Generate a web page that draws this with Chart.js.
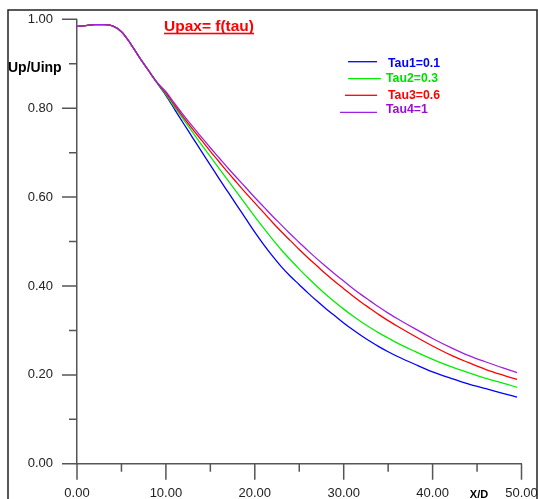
<!DOCTYPE html>
<html lang="en">
<head>
    <meta charset="UTF-8">
    <title>Upax = f(tau)</title>
    <script src="https://cdn.jsdelivr.net/npm/chart.js"></script>
    <style>
        body { margin: 0; background: #fff; }
        canvas { display: block; }
    </style>
</head>
<body>
    <canvas id="myChart" width="538" height="499"></canvas>

    <script>
        // x/D positions where the curves were read
        const xd = [0, 1, 2, 3, 4, 5, 6, 7, 8, 9, 10, 11, 12, 13, 14, 15, 16, 17, 18, 19, 20,
            21, 22, 23, 24, 25, 26, 27, 28, 29, 30, 31, 32, 33, 34, 35, 36, 38, 40, 42, 44, 46, 48, 49.5];

        // Up/Uinp for each tau
        const tau1 = [0.984, 0.986, 0.988, 0.988, 0.985, 0.972, 0.946, 0.915, 0.886, 0.857,
            0.829, 0.797, 0.765, 0.734, 0.703, 0.672, 0.641, 0.611, 0.581, 0.551, 0.521,
            0.493, 0.467, 0.443, 0.422, 0.403, 0.384, 0.366, 0.349, 0.333, 0.317, 0.302,
            0.288, 0.275, 0.263, 0.252, 0.242, 0.224, 0.207, 0.193, 0.180, 0.169, 0.158, 0.150];
        const tau2 = [0.984, 0.986, 0.988, 0.988, 0.985, 0.972, 0.946, 0.915, 0.886, 0.858,
            0.831, 0.802, 0.774, 0.746, 0.718, 0.691, 0.664, 0.637, 0.610, 0.583, 0.556,
            0.530, 0.505, 0.481, 0.459, 0.438, 0.418, 0.399, 0.381, 0.364, 0.348, 0.333,
            0.319, 0.306, 0.294, 0.283, 0.272, 0.253, 0.235, 0.219, 0.205, 0.192, 0.181, 0.172];
        const tau3 = [0.984, 0.986, 0.988, 0.988, 0.985, 0.972, 0.946, 0.915, 0.886, 0.858,
            0.834, 0.806, 0.779, 0.753, 0.728, 0.703, 0.679, 0.655, 0.632, 0.609, 0.587,
            0.565, 0.543, 0.522, 0.502, 0.482, 0.463, 0.445, 0.427, 0.410, 0.394, 0.378,
            0.363, 0.349, 0.335, 0.322, 0.310, 0.287, 0.265, 0.245, 0.228, 0.212, 0.199, 0.190];
        const tau4 = [0.984, 0.986, 0.988, 0.988, 0.985, 0.972, 0.946, 0.915, 0.886, 0.858,
            0.837, 0.810, 0.784, 0.759, 0.735, 0.711, 0.688, 0.665, 0.643, 0.621, 0.599,
            0.578, 0.557, 0.537, 0.517, 0.498, 0.479, 0.461, 0.444, 0.427, 0.411, 0.395,
            0.380, 0.366, 0.352, 0.339, 0.327, 0.304, 0.282, 0.262, 0.244, 0.229, 0.215, 0.205];

        const seriesNames = ['Tau1=0.1', 'Tau2=0.3', 'Tau3=0.6', 'Tau4=1'];
        const seriesColors = ['#0000ff', '#00ee00', '#ff0000', '#a020e0'];
        const textColors = ['#0000ff', '#00dd00', '#ff0000', '#9910cc'];

        const xMajor = [0, 10, 20, 30, 40, 50];
        const xMinor = [5, 15, 25, 35, 45];
        const yMajor = [0, 0.2, 0.4, 0.6, 0.8, 1.0];
        const yMinor = [0.1, 0.3, 0.5, 0.7, 0.9];

        const font = 'Liberation Sans, Arial, sans-serif';
        const axisColor = '#555';

        // frame, title, axis ticks, axis names and legend
        const decorations = {
            id: 'decorations',
            afterDraw(chart) {
                const ctx = chart.ctx;
                const xs = chart.scales.x;
                const ys = chart.scales.y;
                const left = chart.chartArea.left;
                const bottom = chart.chartArea.bottom;
                ctx.save();

                ctx.strokeStyle = '#222';
                ctx.lineWidth = 1.5;
                ctx.strokeRect(8, 10, 529, 495);

                // tick marks
                ctx.strokeStyle = axisColor;
                ctx.lineWidth = 1.5;
                ctx.beginPath();
                yMajor.forEach(v => { const p = ys.getPixelForValue(v); ctx.moveTo(left - 15, p); ctx.lineTo(left, p); });
                yMinor.forEach(v => { const p = ys.getPixelForValue(v); ctx.moveTo(left - 8, p); ctx.lineTo(left, p); });
                xMajor.forEach(v => { const p = xs.getPixelForValue(v); ctx.moveTo(p, bottom); ctx.lineTo(p, bottom + 16); });
                xMinor.forEach(v => { const p = xs.getPixelForValue(v); ctx.moveTo(p, bottom); ctx.lineTo(p, bottom + 8); });
                ctx.stroke();

                // title
                ctx.fillStyle = '#ff0000';
                ctx.font = 'bold 15.5px ' + font;
                ctx.textAlign = 'center';
                ctx.textBaseline = 'alphabetic';
                ctx.fillText('Upax= f(tau)', 209, 31);
                const tw = ctx.measureText('Upax= f(tau)').width;
                ctx.fillRect(209 - tw / 2, 32.7, tw, 1.6);

                // axis names
                ctx.fillStyle = '#000';
                ctx.font = 'bold 14px ' + font;
                ctx.textAlign = 'left';
                ctx.textBaseline = 'middle';
                ctx.fillText('Up/Uinp', 8, 68);
                ctx.font = 'bold 11px ' + font;
                ctx.textAlign = 'center';
                ctx.fillText('X/D', 479, 495);

                // legend
                const legendLines = [[348, 377, 61.7], [348, 381, 78.7], [345, 377, 95.3], [340, 377, 112.3]];
                const legendText = [[388, 64], [386, 79], [388, 96], [386, 110]];
                ctx.font = 'bold 12.3px ' + font;
                ctx.textAlign = 'left';
                seriesNames.forEach((name, i) => {
                    const [x0, x1, y] = legendLines[i];
                    ctx.strokeStyle = seriesColors[i];
                    ctx.lineWidth = 1.3;
                    ctx.beginPath();
                    ctx.moveTo(x0, y);
                    ctx.lineTo(x1, y);
                    ctx.stroke();
                    ctx.fillStyle = textColors[i];
                    ctx.fillText(name, legendText[i][0], legendText[i][1]);
                });

                ctx.restore();
            }
        };

        // keep the label padding from pushing the plot area around
        function noScalePadding(s) {
            s.paddingLeft = 0;
            s.paddingRight = 0;
            s.paddingTop = 0;
            s.paddingBottom = 0;
        }

        const allSeries = [tau1, tau2, tau3, tau4];
        const datasets = allSeries.map((vals, i) => ({
            label: seriesNames[i],
            data: xd.map((x, j) => ({ x: x, y: vals[j] })),
            borderColor: seriesColors[i],
            borderWidth: 1.3,
            pointRadius: 0,
            fill: false,
            cubicInterpolationMode: 'monotone',
            order: 3 - i
        }));

        const ctx = document.getElementById('myChart');

        new Chart(ctx, {
            type: 'line',
            data: { datasets: datasets },
            options: {
                responsive: false,
                animation: false,
                devicePixelRatio: 1,
                layout: { padding: { left: 0, right: 16.5, top: 19.3, bottom: 0 } },
                plugins: {
                    legend: { display: false },
                    tooltip: { enabled: false }
                },
                scales: {
                    x: {
                        type: 'linear',
                        min: 0,
                        max: 50,
                        grid: { display: false, drawTicks: false },
                        border: { display: true, color: axisColor, width: 1.5 },
                        ticks: {
                            stepSize: 10,
                            autoSkip: false,
                            maxRotation: 0,
                            padding: 22,
                            color: '#222',
                            font: { family: font, size: 13 },
                            callback: v => v.toFixed(2)
                        },
                        afterFit: s => { s.height = 35.2; noScalePadding(s); }
                    },
                    y: {
                        min: 0,
                        max: 1,
                        grid: { display: false, drawTicks: false },
                        border: { display: true, color: axisColor, width: 1.5 },
                        ticks: {
                            stepSize: 0.2,
                            padding: 24,
                            color: '#222',
                            font: { family: font, size: 13 },
                            callback: v => v.toFixed(2)
                        },
                        afterFit: s => { s.width = 77; noScalePadding(s); }
                    }
                }
            },
            plugins: [decorations]
        });
    </script>
</body>
</html>
